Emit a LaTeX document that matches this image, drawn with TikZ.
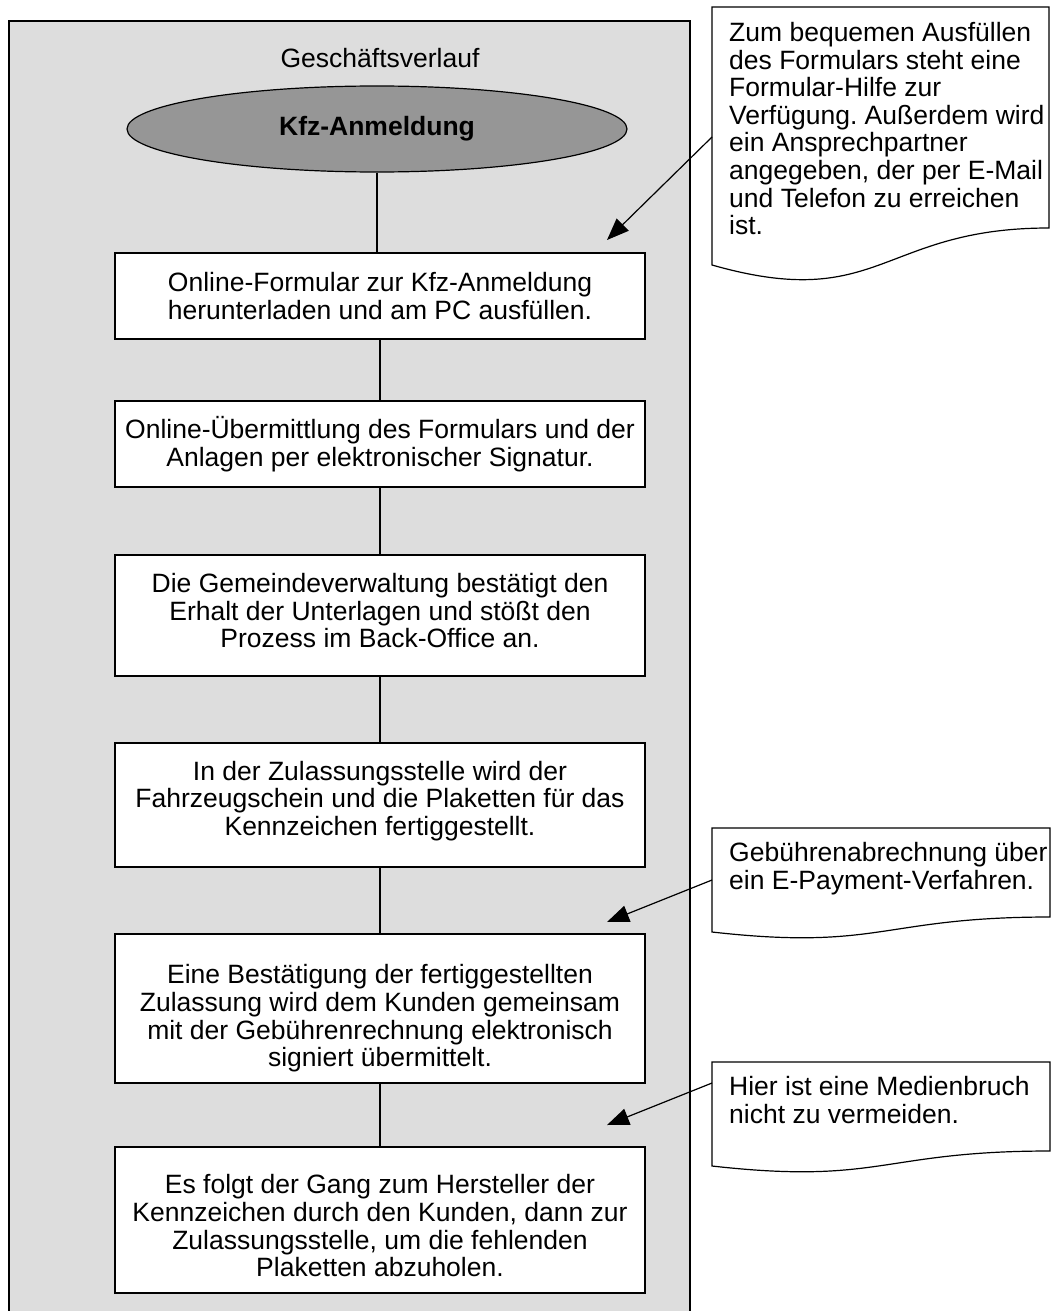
\documentclass[tikz,border=0pt]{standalone}
\usepackage{fontspec}
\setmainfont{Liberation Sans}
\usetikzlibrary{shapes.geometric,arrows.meta}
\definecolor{lanebg}{HTML}{DDDDDD}
\definecolor{startfill}{HTML}{969696}
\frenchspacing
% invisible strut that makes the first text line of a box taller
\newcommand{\firstlinestrut}[1]{\rule{0pt}{#1}}
\begin{document}
\begin{tikzpicture}[x=1pt,y=-1pt,
  every node/.style={font=\fontsize{26.5}{27.6}\selectfont},
  stepbox/.style={draw, line width=1.2pt, fill=white, minimum width=530pt,
    align=center, inner sep=0pt},
  % push the text block up (deeper last line)
  textup/.style={execute at end node={\rule[-#1]{0pt}{0pt}}},
  link/.style={line width=1.2pt},
  notetext/.style={anchor=north west, align=left, inner sep=0pt},
  noteshape/.style={draw, line width=1.2pt, fill=white},
  pointer/.style={line width=1.2pt, -{Triangle[length=22pt,width=17pt]}}]
\useasboundingbox (0,0) rectangle (1052,1311);
\clip (0,0) rectangle (1052,1311);

% swimlane
\draw[fill=lanebg, line width=1.2pt] (9,21) rectangle (690,1340);
\node (lane) at (380,58) {Geschäftsverlauf};

% start event
\node[ellipse, draw, line width=1.2pt, fill=startfill, minimum width=500pt,
  minimum height=86pt, inner sep=0pt] (start) at (377,129) {\bfseries Kfz-Anmeldung};

% process steps
\node[stepbox, minimum height=86pt] (s1) at (380,296)
  {Online-Formular zur Kfz-Anmeldung\\herunterladen und am PC ausfüllen.};
\node[stepbox, minimum height=86pt] (s2) at (380,444)
  {Online-Übermittlung des Formulars und der\\Anlagen per elektronischer Signatur.};
\node[stepbox, minimum height=121pt, textup=10pt] (s3) at (380,615.5)
  {Die Gemeindeverwaltung bestätigt den\\Erhalt der Unterlagen und stößt den\\Prozess im Back-Office an.};
\node[stepbox, minimum height=124pt, textup=13.5pt] (s4) at (380,805)
  {In der Zulassungsstelle wird der\\Fahrzeugschein und die Plaketten für das\\Kennzeichen fertiggestellt.};
\node[stepbox, minimum height=149pt] (s5) at (380,1008.5)
  {\firstlinestrut{39pt}Eine Bestätigung der fertiggestellten\\Zulassung wird dem Kunden gemeinsam\\mit der Gebührenrechnung elektronisch\\signiert übermittelt.};
\node[stepbox, minimum height=146pt] (s6) at (380,1220)
  {\firstlinestrut{31pt}Es folgt der Gang zum Hersteller der\\Kennzeichen durch den Kunden, dann zur\\Zulassungsstelle, um die fehlenden\\Plaketten abzuholen.};

\draw[link] (start.south) -- (start.south |- s1.north);
\foreach \a/\b in {s1/s2, s2/s3, s3/s4, s4/s5, s5/s6}
  \draw[link] (\a.south) -- (\b.north);

% annotations (document shapes with wavy bottom)
\draw[noteshape] (712,7) -- (1049,7) -- (1049,228)
  .. controls (880.5,228) and (880.5,313) .. (712,265) -- cycle;
\node[notetext] (n1) at (729,22)
  {Zum bequemen Ausfüllen\\des Formulars steht eine\\Formular-Hilfe zur\\Verfügung. Außerdem wird\\ein Ansprechpartner\\angegeben, der per E-Mail\\und Telefon zu erreichen\\ist.};
\coordinate (n1src) at (712,137);
\coordinate (n1tip) at (607,240);
\draw[pointer] (n1src) -- (n1tip);

\draw[noteshape] (712,828) -- (1050,828) -- (1050,917)
  .. controls (881,917) and (881,951) .. (712,932) -- cycle;
\node[notetext] (n2) at (729,842)
  {Gebührenabrechnung über\\ein E-Payment-Verfahren.};
\coordinate (n2src) at (712,880);
\coordinate (n2tip) at (607,922);
\draw[pointer] (n2src) -- (n2tip);

\draw[noteshape] (712,1062) -- (1050,1062) -- (1050,1151)
  .. controls (881,1151) and (881,1185) .. (712,1166) -- cycle;
\node[notetext] (n3) at (729,1076)
  {Hier ist eine Medienbruch\\nicht zu vermeiden.};
\coordinate (n3src) at (712,1083);
\coordinate (n3tip) at (607,1125);
\draw[pointer] (n3src) -- (n3tip);
\end{tikzpicture}
\end{document}
